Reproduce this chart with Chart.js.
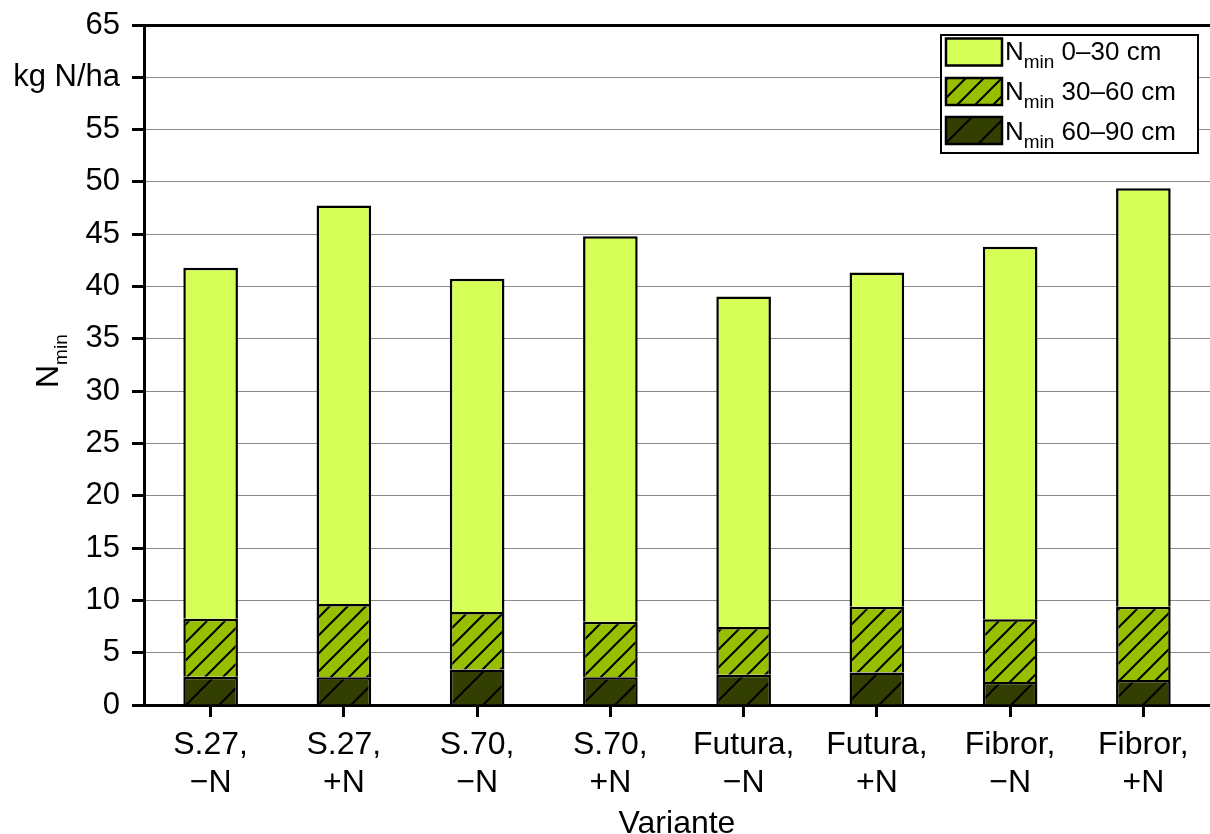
<!DOCTYPE html>
<html>
<head>
<meta charset="utf-8">
<script src="https://cdn.jsdelivr.net/npm/chart.js@4.4.0/dist/chart.umd.min.js"></script>
<style>
html,body{margin:0;padding:0;background:#fff;}
#c{display:block;}
</style>
</head>
<body>
<canvas id="c" width="1210" height="834"></canvas>
<script>
// ---- data ----
const categories = [
  ['S.27,', '\u2212N'], ['S.27,', '+N'],
  ['S.70,', '\u2212N'], ['S.70,', '+N'],
  ['Futura,', '\u2212N'], ['Futura,', '+N'],
  ['Fibror,', '\u2212N'], ['Fibror,', '+N']
];
const nmin60_90 = [2.7, 2.65, 3.4, 2.65, 2.9, 3.1, 2.2, 2.4];
const nmin30_60 = [5.55, 7.0, 5.5, 5.3, 4.55, 6.3, 6.0, 7.0];
const nmin0_30  = [33.55, 38.1, 31.85, 36.85, 31.6, 31.95, 35.6, 40.0];
const seriesNames = ['0\u201330 cm', '30\u201360 cm', '60\u201390 cm'];
const yTickValues = [0, 5, 10, 15, 20, 25, 30, 35, 40, 45, 50, 55, 60, 65];
const yUnitLabel = 'kg N/ha';
const xTitle = 'Variante';

const FONT = "'Liberation Sans', Arial, sans-serif";
const C_TOP = '#D5FF57';
const C_MID = '#97BF00';
const C_DARK = '#333F00';

function hatch(color, s, lw) {
  const c = document.createElement('canvas');
  c.width = s; c.height = s;
  const g = c.getContext('2d');
  g.fillStyle = color; g.fillRect(0, 0, s, s);
  g.strokeStyle = '#000'; g.lineWidth = lw;
  g.beginPath();
  for (const k of [0, s, 2 * s]) {
    g.moveTo(k - s - 1, s + 1);
    g.lineTo(k + 1, -1);
  }
  g.stroke();
  return g.createPattern(c, 'repeat');
}
const pMid = hatch(C_MID, 18, 2);
const pDark = hatch(C_DARK, 33, 2);

const fills = [C_TOP, pMid, pDark];

const customPlugin = {
  id: 'custom',
  afterDraw(chart) {
    const ctx = chart.ctx;
    ctx.save();
    // y title N_min
    ctx.translate(58, 388);
    ctx.rotate(-Math.PI / 2);
    ctx.fillStyle = '#000';
    ctx.textBaseline = 'alphabetic';
    ctx.textAlign = 'left';
    ctx.font = '32px ' + FONT;
    ctx.fillText('N', 0, 0);
    const wN = ctx.measureText('N').width;
    ctx.font = '19px ' + FONT;
    ctx.fillText('min', wN, 9);
    ctx.restore();

    // legend
    ctx.save();
    const bx = 941, by = 35, bw = 257, bh = 118;
    ctx.fillStyle = '#fff';
    ctx.fillRect(bx, by, bw, bh);
    ctx.strokeStyle = '#000';
    ctx.lineWidth = 2;
    ctx.strokeRect(bx, by, bw, bh);
    const rowsTop = [38.5, 78, 117];
    const baselines = [60, 100, 140];
    for (let i = 0; i < 3; i++) {
      ctx.fillStyle = fills[i];
      ctx.fillRect(946, rowsTop[i], 56, 27);
      ctx.lineWidth = 2.5;
      ctx.strokeStyle = '#000';
      ctx.strokeRect(946, rowsTop[i], 56, 27);
      ctx.fillStyle = '#000';
      ctx.textBaseline = 'alphabetic';
      ctx.textAlign = 'left';
      ctx.font = '26px ' + FONT;
      ctx.fillText('N', 1005, baselines[i]);
      let x = 1005 + ctx.measureText('N').width;
      ctx.font = '19px ' + FONT;
      ctx.fillText('min', x, baselines[i] + 8);
      x += ctx.measureText('min').width;
      ctx.font = '26px ' + FONT;
      ctx.fillText(' ' + seriesNames[i], x, baselines[i]);
    }
    ctx.restore();
  }
};

Chart.defaults.font.family = FONT;
Chart.defaults.color = '#000';

new Chart(document.getElementById('c'), {
  type: 'bar',
  data: {
    labels: categories,
    datasets: [
      { label: 'Nmin ' + seriesNames[2], data: nmin60_90, backgroundColor: pDark },
      { label: 'Nmin ' + seriesNames[1], data: nmin30_60, backgroundColor: pMid },
      { label: 'Nmin ' + seriesNames[0], data: nmin0_30, backgroundColor: C_TOP }
    ].map(d => Object.assign(d, {
      borderColor: '#000', borderWidth: 2.5, borderSkipped: 'start',
      barPercentage: 0.41, categoryPercentage: 1.0
    }))
  },
  options: {
    responsive: false,
    animation: false,
    layout: { padding: { top: 25, right: 0, left: 0, bottom: 0 } },
    plugins: { legend: { display: false }, tooltip: { enabled: false } },
    scales: {
      x: {
        stacked: true,
        offset: true,
        border: { color: '#000', width: 3 },
        grid: { display: true, drawOnChartArea: false, drawTicks: true, tickLength: 12,
                tickColor: '#000', tickWidth: 3, offset: false },
        ticks: { font: { size: 32, lineHeight: 1.19 }, color: '#000', padding: 9, maxRotation: 0, autoSkip: false },
        title: { display: true, text: xTitle, font: { size: 32, lineHeight: 0.6 }, padding: 0, color: '#000' },
        afterFit(s) { s.height = 129; s.paddingLeft = 0; s.paddingRight = 0; }
      },
      y: {
        stacked: true,
        min: 0, max: 65,
        border: { color: '#000', width: 3 },
        afterBuildTicks(s) { s.ticks = yTickValues.map(v => ({ value: v })); },
        grid: {
          color: c => (c.tick && c.tick.value === 65) ? '#000' : '#8a8a8a',
          lineWidth: c => (c.tick && c.tick.value === 65) ? 3 : 1,
          tickLength: 12, tickColor: '#000', tickWidth: 3
        },
        ticks: {
          font: { size: 31 }, color: '#000', padding: 12,
          callback: v => (v === 60 ? yUnitLabel : String(v))
        },
        afterFit(s) { s.width = 144; s.paddingTop = 0; s.paddingBottom = 0; }
      }
    }
  },
  plugins: [customPlugin]
});
</script>
</body>
</html>
